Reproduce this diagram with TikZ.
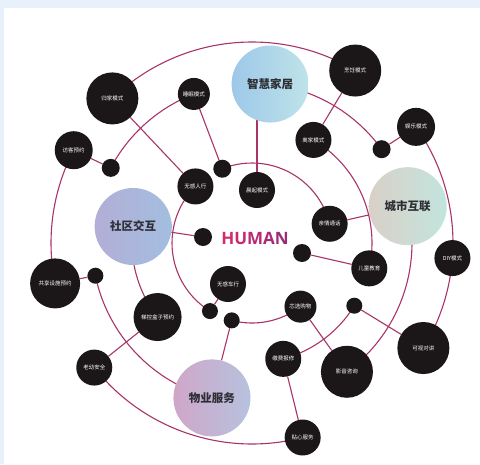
\documentclass[tikz,border=0pt]{standalone}
\usepackage{fontspec}
\newfontfamily\cjk{Noto Sans CJK SC}
\newfontfamily\humfont{Open Sans}
\usetikzlibrary{calc}
\pgfdeclarelayer{bg}
\pgfdeclarelayer{edges}
\pgfsetlayers{bg,edges,main}
\definecolor{linec}{HTML}{A8346A}
\definecolor{nodeblack}{HTML}{1B1718}
\definecolor{hubtext}{HTML}{2E2E35}
\definecolor{bgblue}{HTML}{E8F0FB}
\definecolor{zhL}{HTML}{9DC8E8}
\definecolor{zhR}{HTML}{BFE3EA}
\definecolor{sqL}{HTML}{B2AED6}
\definecolor{sqR}{HTML}{A3BEE0}
\definecolor{csL}{HTML}{D9D0C8}
\definecolor{csR}{HTML}{C2E5DD}
\definecolor{wyL}{HTML}{D0A6C8}
\definecolor{wyR}{HTML}{B6C2DE}
\begin{document}
\begin{tikzpicture}[x=1pt,y=-1pt,
  dotnode/.style={circle,fill=nodeblack,inner sep=0pt,minimum size=#1},
  lbl/.style={circle,fill=nodeblack,inner sep=0pt,minimum size=#1,text=white,
    font=\cjk\fontsize{5.5}{6}\selectfont},
  hub/.style={circle,inner sep=0pt,minimum size=77pt,text=hubtext,
    font=\cjk\bfseries\fontsize{11.5}{13}\selectfont},
  link/.style={draw=linec,line width=1.1pt}]
\useasboundingbox (0,0) rectangle (480,464);
\begin{pgfonlayer}{bg}
  \fill[bgblue] (0,0) rectangle (480,464);
  \fill[white] (4,8) rectangle (480,464);
\end{pgfonlayer}

\coordinate (H) at (252,243);
\begin{scope}[shift={(252,243)}]
  % ring R = 201
  \node[lbl=52pt] (gj) at (226:201) {归家模式};
  \node[lbl=52pt] (pr) at (300.9:201) {烹饪模式};
  \node[lbl=38pt] (yl) at (324.7:201) {娱乐模式};
  \node[lbl=36pt] (diy) at (4.3:201) {DIY模式};
  \node[lbl=52pt] (ks) at (31.5:201) {可视对讲};
  \node[lbl=36pt] (tx) at (75.4:201) {贴心服务};
  \node[lbl=36pt] (ly) at (141.7:201) {老幼安全};
  \node[lbl=50pt] (gx) at (168.4:201) {共享设施预约};
  \node[lbl=38pt] (fk) at (207.5:201) {访客预约};
  % ring R = 160
  \node[lbl=32pt] (sm) at (248.7:160) {睡眠模式};
  \node[dotnode=18pt] (d1) at (208:160) {};
  \node[hub,left color=zhL,right color=zhR] (zh) at (276.5:160) {智慧家居};
  \node[dotnode=18pt] (d2) at (324.1:160) {};
  \node[hub,left color=csL,right color=csR,minimum size=78pt] (cs) at (346.7:160) {城市互联};
  \node[lbl=52pt] (yy) at (53.6:160) {影音咨询};
  \node[hub,left color=wyL,right color=wyR] (wy) at (104.5:160) {物业服务};
  \node[dotnode=16pt] (d3) at (168.2:160) {};
  % ring R = 120
  \node[lbl=36pt] (lj) at (300.8:120) {离家模式};
  \node[lbl=36pt] (et) at (12.2:120) {儿童教育};
  \node[dotnode=16pt] (d4) at (31.5:120) {};
  \node[lbl=36pt] (jf) at (74.9:120) {缴费报修};
  \node[lbl=48pt] (tk) at (141.9:120) {梯控盒子预约};
  \node[hub,left color=sqL,right color=sqR] (sq) at (187.9:120) {社区交互};
  % ring R = 80
  \node[lbl=36pt] (wr) at (225:80) {无感人行};
  \node[dotnode=18pt] (d5) at (248.2:80) {};
  \node[lbl=36pt] (qq) at (346.1:80) {亲情通话};
  \node[lbl=32pt] (xg) at (52.7:80) {芯选购物};
  \node[dotnode=16pt] (d6) at (104.7:80) {};
  \node[dotnode=16pt] (d7) at (121.7:80) {};
\end{scope}
\node[lbl=36pt] (cq) at (257,190) {晨起模式};
\node[dotnode=18pt] (d8) at (203,237) {};
\node[dotnode=18pt] (d9) at (302,253) {};
\node[lbl=36pt] (wc) at (228,284) {无感车行};
\node[font=\humfont\bfseries\fontsize{17}{19}\selectfont,inner sep=0pt] (hm) at (255,238)
  {\textcolor[HTML]{D22A6A}{H}\textcolor[HTML]{C72A6E}{U}\textcolor[HTML]{B82A72}{M}\textcolor[HTML]{A92A76}{A}\textcolor[HTML]{9A2A7A}{N}};

\begin{pgfonlayer}{edges}
  % arcs, R = 201
  \draw[link] (gj.center) arc[start angle=226,end angle=300.9,radius=201];
  \draw[link] (yl.center) arc[start angle=-35.3,end angle=31.5,radius=201];
  \draw[link] (tx.center) arc[start angle=75.4,end angle=141.7,radius=201];
  \draw[link] (gx.center) arc[start angle=168.4,end angle=207.5,radius=201];
  % arcs, R = 160
  \draw[link] (sm.center) arc[start angle=248.7,end angle=208,radius=160];
  \draw[link] (zh.center) arc[start angle=276.5,end angle=324.1,radius=160];
  \draw[link] (cs.center) arc[start angle=-13.3,end angle=53.6,radius=160];
  \draw[link] (d3.center) arc[start angle=168.2,end angle=104.5,radius=160];
  % arcs, R = 120
  \draw[link] (lj.center) arc[start angle=-59.2,end angle=12.2,radius=120];
  \draw[link] (d4.center) arc[start angle=31.5,end angle=74.9,radius=120];
  \draw[link] (sq.center) arc[start angle=187.9,end angle=141.9,radius=120];
  % arcs, R = 80
  \draw[link] (d5.center) arc[start angle=248.2,end angle=346.1,radius=80];
  \draw[link] (wr.center) arc[start angle=225,end angle=121.7,radius=80];
  \draw[link] (d6.center) arc[start angle=104.7,end angle=52.7,radius=80];
  % straight links
  \draw[link] (gj) -- (wr);
  \draw[link] (sm) -- (d5);
  \draw[link] (fk) -- (d1);
  \draw[link] (pr) -- (lj);
  \draw[link] (yl) -- (d2);
  \draw[link] (cq.center) -- (cq.center |- zh.center);
  \draw[link] (sq) -- (d8);
  \draw[link] (qq) -- (cs);
  \draw[link] (d9) -- (et);
  \draw[link] (gx) -- (d3);
  \draw[link] (ly) -- (tk);
  \draw[link] (wc) -- (d7);
  \draw[link] (d6) -- (wy);
  \draw[link] (xg) -- (yy);
  \draw[link] (d4) -- (ks);
  \draw[link] (jf) -- (tx);
\end{pgfonlayer}
\end{tikzpicture}
\end{document}
